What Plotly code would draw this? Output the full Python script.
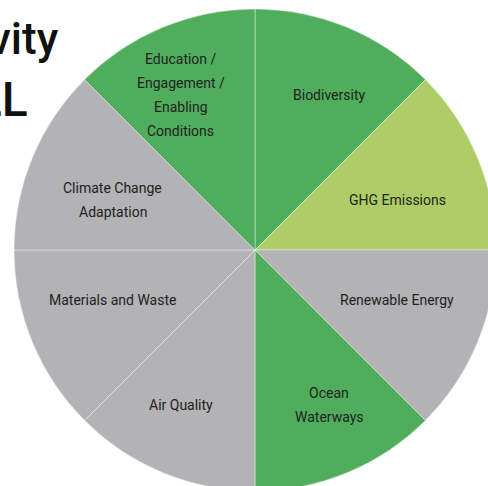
import math
import plotly.graph_objects as go

# ---- data ----
categories = [
    "Biodiversity",
    "GHG Emissions",
    "Renewable Energy",
    "Ocean<br>Waterways",
    "Air Quality",
    "Materials and Waste",
    "Climate Change<br>Adaptation",
    "Education /<br>Engagement /<br>Enabling<br>Conditions",
]
values = [1, 1, 1, 1, 1, 1, 1, 1]
status = ["active", "partial", "none", "active", "none", "none", "none", "active"]
title_lines = ["Activity", "ALL"]

# ---- style ----
W, H = 510, 500
CX, CY, R = 255, 250, 241
status_colors = {"active": "#4FAD5C", "partial": "#AECD66", "none": "#B3B2B4"}
colors = [status_colors[s] for s in status]
FONT = "Roboto, Arial, sans-serif"

fig = go.Figure(
    go.Pie(
        labels=[c.replace("<br>", " ") for c in categories],
        values=values,
        sort=False,
        direction="clockwise",
        rotation=0,
        marker=dict(colors=colors, line=dict(color="rgba(255,255,255,0.4)", width=1)),
        textinfo="none",
        hoverinfo="label",
        showlegend=False,
        domain=dict(x=[(CX - R) / W, (CX + R) / W], y=[(H - CY - R) / H, (H - CY + R) / H]),
    )
)

annotations = []
total = sum(values)
cum = 0
LINE_H = 24
for cat, v in zip(categories, values):
    mid_deg = (cum + v / 2) / total * 360
    cum += v
    # label radius/angle rule: a bit further out near the vertical axis,
    # nudged slightly toward the horizontal axis
    shift = 3 if (mid_deg % 180) < 90 else -3
    ang = math.radians(mid_deg + shift)
    r = R * (0.670 + 0.0616 * math.cos(2 * math.radians(mid_deg)))
    px = CX + r * math.sin(ang)
    py = CY - r * math.cos(ang)
    lines = cat.split("<br>")
    n = len(lines)
    for i, ln in enumerate(lines):
        annotations.append(dict(
            x=px / W, y=(H - py) / H, xref="paper", yref="paper",
            text=ln, showarrow=False, xanchor="center", yanchor="middle",
            yshift=((n - 1) / 2 - i) * LINE_H,
            font=dict(family=FONT, size=14, color="#222222"),
        ))

# partially visible title at top-left
title_x = [61, 30]
title_y = [39, 100]
title_size = [44, 48]
for i, t in enumerate(title_lines):
    annotations.append(dict(
        x=title_x[i] / W, y=(H - title_y[i]) / H, xref="paper", yref="paper",
        text=t, showarrow=False, xanchor="right", yanchor="middle",
        font=dict(family=FONT, size=title_size[i], color="#111111", weight=500),
    ))

fig.update_layout(
    width=W, height=H,
    margin=dict(l=0, r=0, t=0, b=0),
    paper_bgcolor="white",
    plot_bgcolor="white",
    annotations=annotations,
)

fig.write_html(
    "out.html",
    config={"displayModeBar": False},
    post_script="document.body.style.margin='0';document.body.style.overflow='hidden';",
)
